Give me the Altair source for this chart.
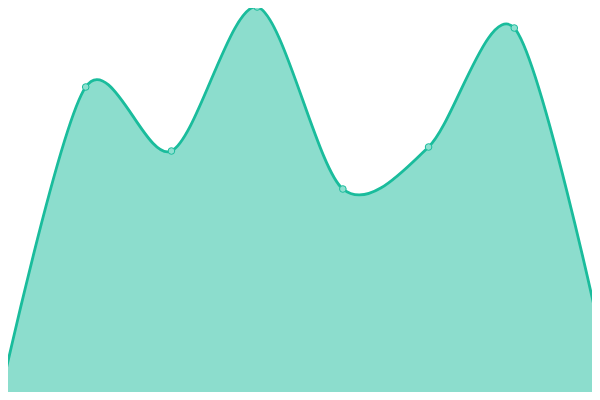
import altair as alt
import pandas as pd

idx = [0, 1, 2, 3, 4, 5, 6, 7]
values = [3, 313, 249, 393, 211, 253, 372, 67]

df = pd.DataFrame({"i": idx, "v": values})

# The page has an 8px margin; keep the document exactly 600x400 and map data
# so that positions match the reference's full-window layout.
xs = alt.Scale(domain=[8 * 7 / 600, 592 * 7 / 600], nice=False, zero=False)
ys = alt.Scale(domain=[8, 392], nice=False, zero=False)

base = alt.Chart(df).encode(
    x=alt.X("i:Q", scale=xs, axis=None),
    y=alt.Y("v:Q", scale=ys, axis=None),
)

area = base.mark_area(interpolate="cardinal", tension=0.1, color="#1abc9c", opacity=0.5)
line = base.mark_line(interpolate="cardinal", tension=0.1, color="#1abc9c", strokeWidth=2.8)
pts = base.mark_point(filled=False, fill="#8ee0d0", fillOpacity=1, stroke="#1abc9c",
                      strokeWidth=1, size=44, opacity=1)

chart = alt.layer(area, line, pts).properties(
    width=584, height=384, padding=0, autosize=alt.AutoSizeParams(type="none")
).configure_view(stroke=None)

chart.save("out.html", embed_options={"renderer": "svg", "actions": False})
